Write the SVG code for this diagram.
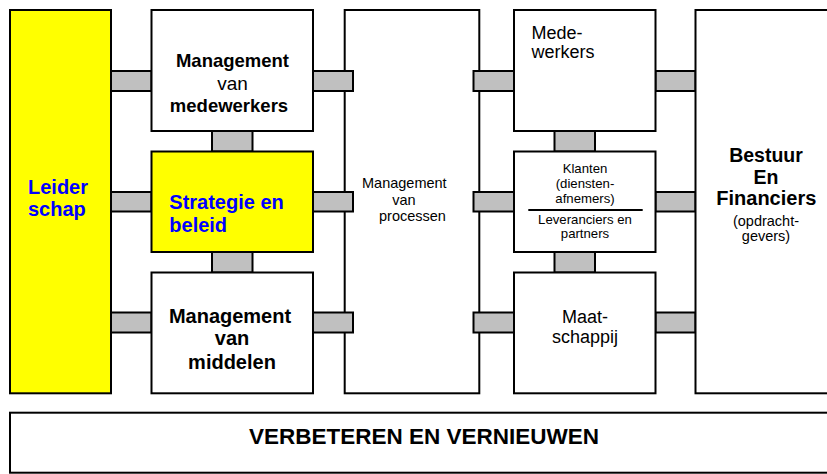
<svg xmlns="http://www.w3.org/2000/svg" width="827" height="474" viewBox="0 0 827 474">
<style>
.box{fill:#fff;stroke:#000;stroke-width:2}
.yel{fill:#ffff00;stroke:#000;stroke-width:2}
.con{fill:#c0c0c0;stroke:#000;stroke-width:2}
text{font-family:"Liberation Sans",Arial,sans-serif;fill:#000}
.b{font-weight:bold}
.blue{fill:#0000ff;font-weight:bold}
.c{text-anchor:middle}
</style>
<rect x="0" y="0" width="827" height="474" fill="#fff"/>
<g id="processen">
<rect class="box" x="344.7" y="10" width="134.6" height="383.3"/>
<text font-size="14.5" x="362" y="188">Management</text>
<text font-size="14.5" class="c" x="404" y="204.5">van</text>
<text font-size="14.5" x="379" y="221">processen</text>
</g>
<g id="connectors">
<rect class="con" x="111" y="71" width="40.5" height="20"/>
<rect class="con" x="111" y="192" width="40.5" height="19.5"/>
<rect class="con" x="111" y="312.5" width="40.5" height="20"/>
<rect class="con" x="212" y="131" width="40.5" height="20.5"/>
<rect class="con" x="212" y="252" width="40.5" height="20.5"/>
<rect class="con" x="313" y="71" width="40" height="20"/>
<rect class="con" x="313" y="192" width="40" height="19.5"/>
<rect class="con" x="313" y="312.5" width="40" height="20"/>
<rect class="con" x="473.5" y="71" width="40.5" height="20"/>
<rect class="con" x="473.5" y="192" width="40.5" height="19.5"/>
<rect class="con" x="473.5" y="312.5" width="40.5" height="20"/>
<rect class="con" x="554.5" y="131" width="40.5" height="20.5"/>
<rect class="con" x="554.5" y="252" width="40.5" height="20.5"/>
<rect class="con" x="655.5" y="71" width="40" height="20"/>
<rect class="con" x="655.5" y="192" width="40" height="19.5"/>
<rect class="con" x="655.5" y="312.5" width="40" height="20"/>
</g>
<g id="leiderschap">
<rect class="yel" x="10" y="10" width="101" height="383.3"/>
<text font-size="20" class="blue" x="28" y="193.5">Leider</text>
<text font-size="20" class="blue" x="28" y="216">schap</text>
</g>
<g id="mgmt-medewerkers">
<rect class="box" x="151.5" y="10" width="161.5" height="121"/>
<text font-size="18.5" class="b c" x="232.5" y="66.5">Management</text>
<text font-size="19" class="c" x="232.5" y="89.5">van</text>
<text font-size="18.5" class="b c" x="229" y="111.5">medewerkers</text>
</g>
<g id="strategie">
<rect class="yel" x="151.5" y="151.5" width="161.5" height="100.5"/>
<text font-size="20" class="blue" x="169.3" y="208.5">Strategie en</text>
<text font-size="20" class="blue" x="169.3" y="231.5">beleid</text>
</g>
<g id="mgmt-middelen">
<rect class="box" x="151.5" y="272.5" width="161.5" height="120.8"/>
<text font-size="20" class="b c" x="230" y="322.5">Management</text>
<text font-size="20" class="b c" x="232" y="345">van</text>
<text font-size="20" class="b c" x="232" y="369">middelen</text>
</g>
<g id="medewerkers">
<rect class="box" x="514" y="10" width="141.5" height="121"/>
<text font-size="18" x="531.5" y="38.5">Mede-</text>
<text font-size="18" x="531.5" y="57.5">werkers</text>
</g>
<g id="klanten">
<rect class="box" x="514" y="151.5" width="141.5" height="100.5"/>
<text font-size="13.2" class="c" x="585" y="172.5">Klanten</text>
<text font-size="13.2" class="c" x="585" y="187.5">(diensten-</text>
<text font-size="13.2" class="c" x="585" y="202.5">afnemers)</text>
<line x1="528.3" y1="210" x2="642.7" y2="210" stroke="#000" stroke-width="2"/>
<text font-size="13.2" class="c" x="585" y="223.5">Leveranciers en</text>
<text font-size="13.2" class="c" x="585" y="237.5">partners</text>
</g>
<g id="maatschappij">
<rect class="box" x="514" y="272.5" width="141.5" height="120.8"/>
<text font-size="18" class="c" x="585" y="322.5">Maat-</text>
<text font-size="18" class="c" x="585" y="342.5">schappij</text>
</g>
<g id="bestuur">
<rect class="box" x="695.5" y="10" width="140" height="383.3"/>
<text font-size="19.5" class="b c" x="766" y="161.5">Bestuur</text>
<text font-size="19.5" class="b c" x="766" y="183.5">En</text>
<text font-size="20" class="b c" x="766.3" y="205">Financiers</text>
<text font-size="14.5" class="c" x="766" y="225.5">(opdracht-</text>
<text font-size="14.5" class="c" x="766" y="241">gevers)</text>
</g>
<g id="verbeteren">
<rect class="box" x="10" y="412.7" width="830" height="60"/>
<text font-size="22.5" class="b c" x="424" y="443.5">VERBETEREN EN VERNIEUWEN</text>
</g>
</svg>
